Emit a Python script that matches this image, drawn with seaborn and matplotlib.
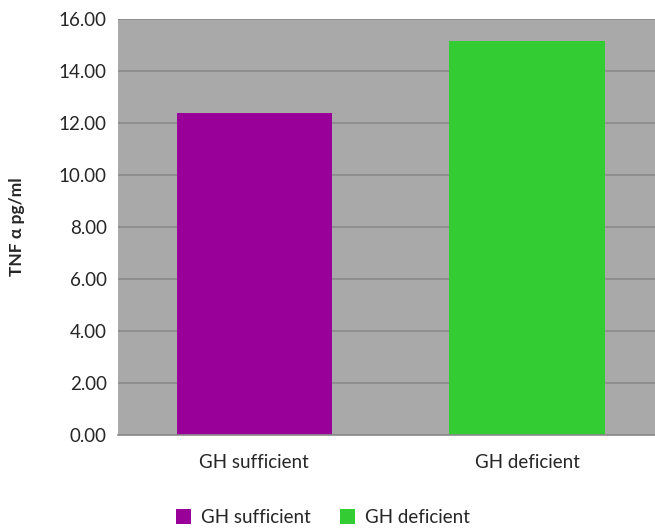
import numpy as np
import pandas as pd
import matplotlib.pyplot as plt
import seaborn as sns

groups = ['GH sufficient', 'GH deficient']
tnf_alpha = [12.38, 15.15]
bar_colors = ['#990099', '#33CC33']

sns.set_style('white')
plt.rcParams['font.family'] = ['Lato', 'DejaVu Sans']

df = pd.DataFrame({'group': groups, 'tnf': tnf_alpha})

fig = plt.figure(figsize=(6.55, 5.29), dpi=100)
ax = fig.add_axes([0.180, 0.178, 0.833, 0.786])
ax.set_facecolor('#A9A9A9')

sns.barplot(data=df, x='group', y='tnf', hue='group', palette=bar_colors,
            order=groups, hue_order=groups, width=0.57, saturation=1,
            dodge=False, ax=ax, legend=True, linewidth=0)

ax.set_ylim(0, 16)
ax.set_xlim(-0.5, 1.5)
ax.set_yticks(np.arange(0, 17, 2))
ax.set_yticklabels([f'{v:.2f}' for v in np.arange(0, 17, 2)], fontsize=13.5)
ax.tick_params(axis='x', labelsize=13.5, length=0, pad=14)
ax.tick_params(axis='y', length=0, pad=8)
ax.yaxis.grid(True, color='#8A8A8A', linewidth=1.2)
ax.set_axisbelow(True)
for s in ['top', 'right', 'left']:
    ax.spines[s].set_visible(False)
ax.spines['bottom'].set_color('#8A8A8A')
ax.spines['bottom'].set_linewidth(1.2)

ax.set_xlabel('')
ax.set_ylabel('TNF α pg/ml', fontsize=12.5, fontweight='bold', labelpad=24)

sns.move_legend(ax, 'lower center', bbox_to_anchor=(0.376, -0.26),
                ncol=2, frameon=False, title=None, fontsize=13.5,
                handlelength=0.8, handleheight=0.8, handletextpad=0.5,
                columnspacing=1.6)

fig.savefig('out.png', dpi=100)
